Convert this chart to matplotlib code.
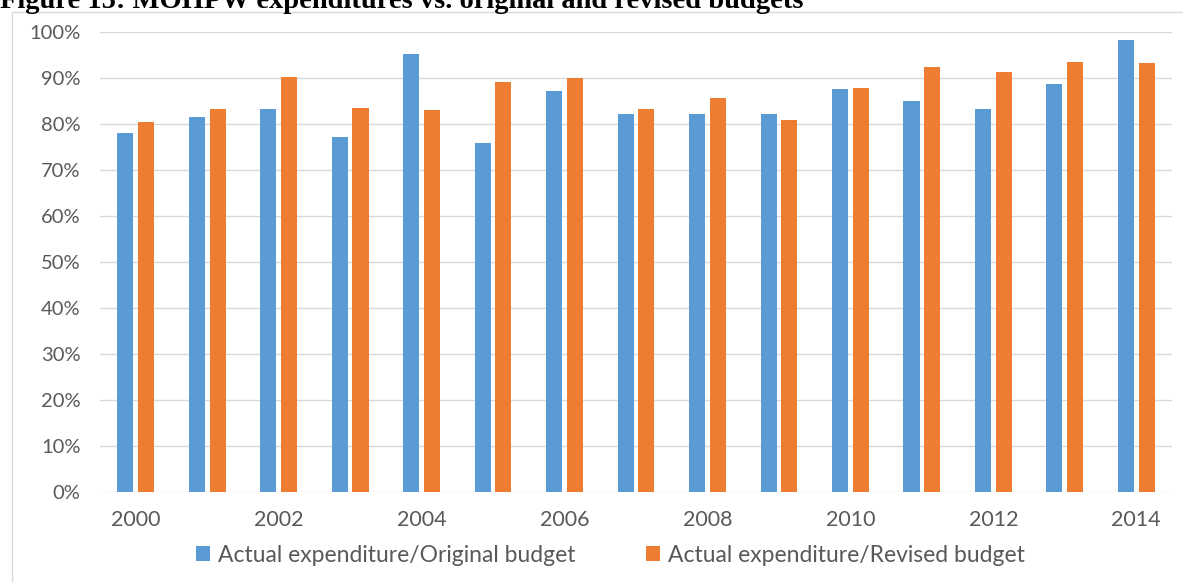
import matplotlib.pyplot as plt
import matplotlib.patches as patches
import numpy as np

years = [str(y) for y in range(2000, 2015)]
vs_original = [78.0, 81.5, 83.3, 77.2, 95.3, 75.9, 87.2, 82.2, 82.2, 82.2, 87.6, 84.9, 83.3, 88.6, 98.2]
vs_revised = [80.4, 83.3, 90.2, 83.5, 83.0, 89.1, 89.9, 83.3, 85.7, 80.9, 87.8, 92.3, 91.3, 93.4, 93.2]
y_ticks = list(range(0, 101, 10))

blue = "#5B9BD5"
orange = "#ED7D31"
grid_gray = "#D9D9D9"
text_gray = "#595959"

plt.rcParams["font.family"] = ["Lato", "DejaVu Sans"]

fig = plt.figure(figsize=(11.83, 5.82), dpi=100)
ax = fig.add_axes([100 / 1183, 90 / 582, 1072 / 1183, 460 / 582])

x = np.arange(len(years))
w = 0.225
ax.bar(x - 0.145, vs_original, w, color=blue, label="Actual expenditure/Original budget", zorder=3)
ax.bar(x + 0.145, vs_revised, w, color=orange, label="Actual expenditure/Revised budget", zorder=3)

ax.set_xlim(-0.5, len(years) - 0.5)
ax.set_ylim(0, 100)
ax.set_yticks(y_ticks)
ax.set_yticklabels([f"{v}%" for v in y_ticks])
ax.set_xticks(x[::2])
ax.set_xticklabels(years[::2])
ax.tick_params(axis="both", length=0, colors=text_gray)
ax.tick_params(axis="y", pad=14, labelsize=14.5)
ax.tick_params(axis="x", pad=13, labelsize=15.5)
ax.grid(axis="y", color=grid_gray, linewidth=1, zorder=0)
for s in ax.spines.values():
    s.set_visible(False)

fig.legend(loc="center", bbox_to_anchor=(0.516, 27 / 582), ncol=2, frameon=False,
           fontsize=16.5, handlelength=0.6, handleheight=0.6, handletextpad=0.35,
           columnspacing=3.1, labelcolor=text_gray)

# outer chart frame
fig.add_artist(patches.Rectangle((12 / 1183, -0.01), 1.0, 1 - 12 / 582 + 0.01,
                                 transform=fig.transFigure, fill=False,
                                 edgecolor=grid_gray, linewidth=1))

fig.text(0.0, 1 - 8 / 582, "Figure 15: MOHPW expenditures vs. original and revised budgets",
         family="Liberation Serif", fontweight="bold", fontsize=20.5, va="baseline", ha="left")

fig.savefig("out.png", dpi=100, facecolor="white")
